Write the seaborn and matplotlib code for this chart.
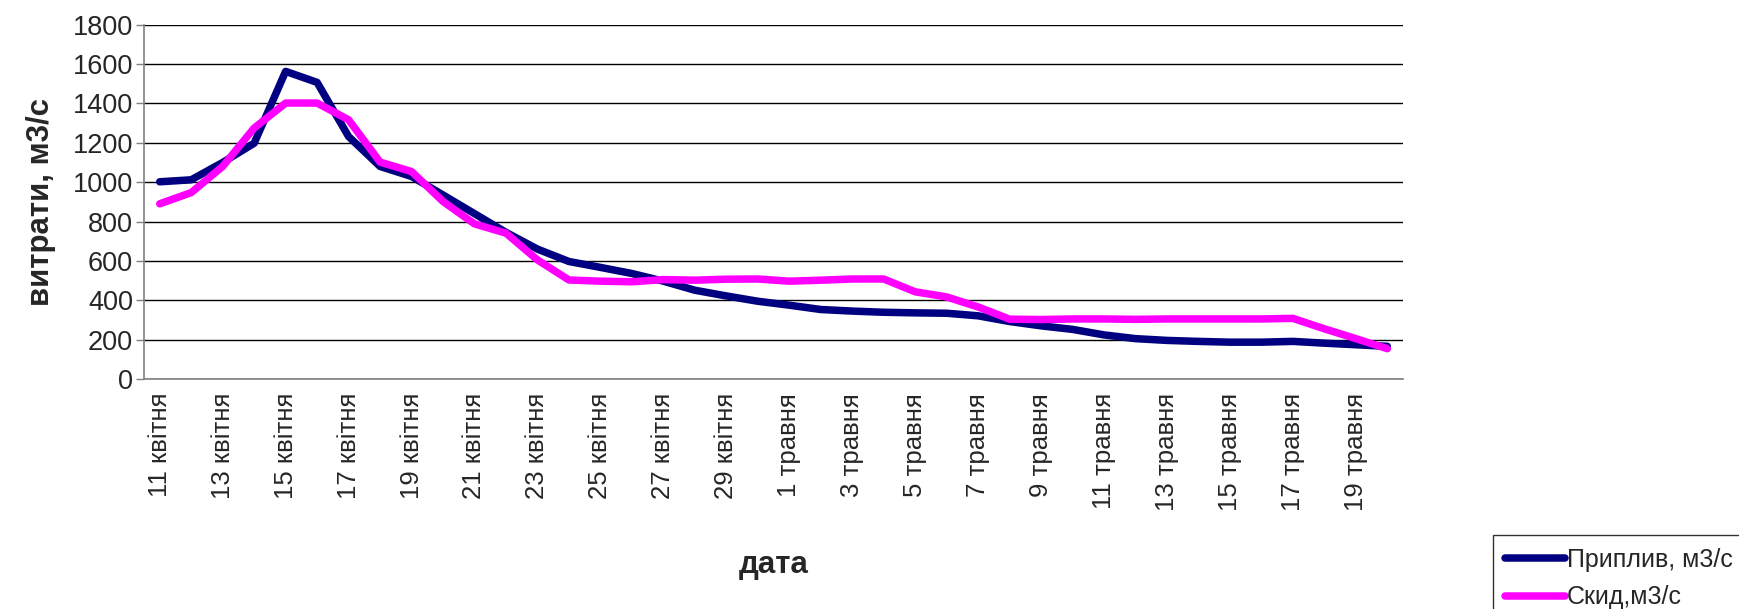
"""
Приплив і скид води, 11 квітня - 20 травня
Output: out.png
"""

import matplotlib
matplotlib.use('Agg')
import matplotlib.pyplot as plt
import numpy as np
import pandas as pd
import seaborn as sns

# Дати (категорії осі X)
april_days = list(range(11, 31))
may_days = list(range(1, 21))
dates = [f'{d} квітня' for d in april_days] + [f'{d} травня' for d in may_days]

# Приплив, м3/с
inflow = [1002, 1012, 1100, 1198, 1563, 1507, 1232, 1080, 1029, 935,
          840, 745, 660, 597, 567, 536, 497, 451, 422, 395,
          375, 353, 345, 339, 336, 334, 321, 292, 270, 252,
          224, 205, 196, 191, 187, 187, 191, 182, 174, 166]

# Скид, м3/с
discharge = [890, 947, 1080, 1275, 1402, 1402, 1317, 1102, 1054, 902,
             788, 741, 605, 503, 497, 494, 505, 502, 507, 508,
             497, 502, 508, 508, 443, 417, 366, 304, 302, 305,
             305, 303, 305, 305, 305, 305, 308, 255, 205, 154]

series_names = ['Приплив, м3/с', 'Скид,м3/с']
colors = ['#000080', '#FF00FF']

sns.set_style('white')
plt.rcParams['font.family'] = ['Liberation Sans', 'DejaVu Sans']

df = pd.DataFrame({
    'pos': list(range(len(dates))) * 2,
    'value': inflow + discharge,
    'series': [series_names[0]] * len(dates) + [series_names[1]] * len(dates),
})

fig = plt.figure(figsize=(17.39, 6.09), dpi=100)
ax = fig.add_axes([0.0828, 0.3777, 0.7240, 0.5817])

sns.lineplot(data=df, x='pos', y='value', hue='series', palette=colors,
             linewidth=5.4, ax=ax, legend=False,
             solid_capstyle='round', solid_joinstyle='round')

ax.set_xlim(-0.5, len(dates) - 0.5)
ax.set_ylim(0, 1800)
ax.set_yticks(np.arange(0, 1801, 200))
ax.grid(axis='y', color='black', linewidth=1)
ax.set_axisbelow(True)

label_pos = list(range(0, len(dates), 2))
ax.set_xticks(label_pos)
ax.set_xticklabels([dates[i] for i in label_pos], rotation=90, fontsize=18.5)
ax.set_xticks(np.arange(-0.5, len(dates), 1), minor=True)
ax.tick_params(axis='x', which='major', length=0, pad=10)
ax.tick_params(axis='x', which='minor', length=7, width=1, color='#808080',
               direction='out')
ax.tick_params(axis='y', labelsize=19.5, length=6, width=1, color='#808080',
               direction='out', pad=2, left=True)

for side in ['top', 'right']:
    ax.spines[side].set_visible(False)
for side in ['left', 'bottom']:
    ax.spines[side].set_color('#808080')
    ax.spines[side].set_linewidth(1.2)

ax.set_ylabel('витрати, м3/с', fontsize=22.5, fontweight='bold', labelpad=12)
ax.set_xlabel('дата', fontsize=22.5, fontweight='bold', labelpad=28)

handles = [plt.Line2D([], [], color=c, linewidth=5.4, solid_capstyle='round')
           for c in colors]
leg = fig.legend(handles, series_names, loc='upper left',
                 bbox_to_anchor=(0.8585, 0.1215), fontsize=18,
                 frameon=True, fancybox=False, edgecolor='black',
                 handlelength=2.4, handletextpad=0.05, labelspacing=0.55,
                 borderpad=0.5, borderaxespad=0)
leg.get_frame().set_linewidth(1)

fig.savefig('out.png', dpi=100)
plt.close(fig)
